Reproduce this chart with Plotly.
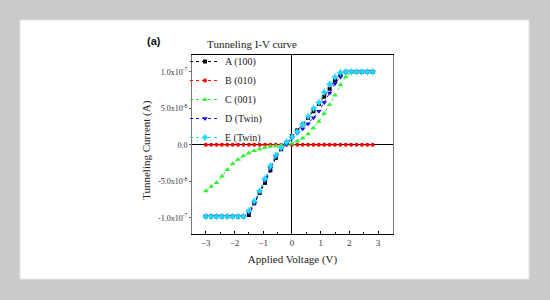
import plotly.graph_objects as go

# Bias voltage (V), common to every series
voltage = [-3.0, -2.8125, -2.625, -2.4375, -2.25, -2.0625, -1.875, -1.6875,
           -1.5, -1.3125, -1.125, -0.9375, -0.75, -0.5625, -0.375, -0.1875,
           0.0, 0.1875, 0.375, 0.5625, 0.75, 0.9375, 1.125, 1.3125,
           1.5, 1.6875, 1.875, 2.0625, 2.25, 2.4375, 2.625, 2.8125]

# Tunneling current, in units of 1e-8 A
cur_a_100 = [-9.8, -9.8, -9.8, -9.8, -9.8, -9.8, -9.8, -9.8,
             -9.6, -8.0, -6.6, -5.2, -3.5, -1.8, -0.6, 0.3,
             1.2, 2.0, 2.8, 3.7, 4.6, 5.6, 6.6, 7.7,
             8.8, 9.7, 10.0, 10.0, 10.0, 10.0, 10.0, 10.0]
cur_b_010 = [0.0, 0.0, 0.0, 0.0, 0.0, 0.0, 0.0, 0.0,
             0.0, 0.0, 0.0, 0.0, 0.0, 0.0, 0.0, 0.0,
             0.0, 0.0, 0.0, 0.0, 0.0, 0.0, 0.0, 0.0,
             0.0, 0.0, 0.0, 0.0, 0.0, 0.0, 0.0, 0.0]
cur_c_001 = [-6.3, -5.7, -5.2, -4.3, -3.4, -2.6, -2.0, -1.5,
             -1.1, -0.8, -0.55, -0.37, -0.23, -0.14, -0.06, 0.0,
             0.2, 0.5, 0.9, 1.5, 2.3, 3.2, 4.3, 5.5,
             6.8, 8.2, 9.3, 9.9, 10.0, 10.0, 10.0, 10.0]
cur_d_twin = [-9.8, -9.8, -9.8, -9.8, -9.8, -9.8, -9.8, -9.8,
              -9.3, -8.0, -6.4, -4.9, -3.2, -1.6, -0.5, 0.1,
              0.9, 1.6, 2.2, 2.9, 3.7, 4.6, 5.8, 7.1,
              8.4, 9.3, 9.9, 10.0, 10.0, 10.0, 10.0, 10.0]
cur_e_twin = [-9.8, -9.8, -9.8, -9.8, -9.8, -9.8, -9.8, -9.8,
              -9.0, -7.7, -6.3, -4.6, -2.9, -1.4, -0.4, 0.4,
              1.1, 1.8, 2.8, 3.9, 5.0, 5.8, 7.2, 8.3,
              9.3, 9.9, 10.0, 10.0, 10.0, 10.0, 10.0, 10.0]

series_names = ["A (100)", "B (010)", "C (001)", "D (Twin)", "E (Twin)"]

x_tickvals = [-3, -2, -1, 0, 1, 2, 3]
y_tickvals = [-1e-7, -5e-8, 0, 5e-8, 1e-7]
y_ticktext = ["-1.0x10<sup>-7</sup>", "-5.0x10<sup>-8</sup>", "0.0",
              "5.0x10<sup>-8</sup>", "1.0x10<sup>-7</sup>"]

SERIF = "Liberation Serif, Times New Roman, serif"

# estilos de cada serie
styles = [
    dict(color="#000000", symbol="square", size=4),
    dict(color="#ff0000", symbol="circle", size=4),
    dict(color="#33ee33", symbol="triangle-up", size=5),
    dict(color="#1010e0", symbol="triangle-down", size=5),
    dict(color="#22d8ff", symbol="star-diamond", size=6),
]

fig = go.Figure()

for name, cur, st in zip(series_names,
                         [cur_a_100, cur_b_010, cur_c_001, cur_d_twin, cur_e_twin],
                         styles):
    fig.add_trace(go.Scatter(
        x=voltage,
        y=[c * 1e-8 for c in cur],
        mode="lines+markers",
        name=name,
        line=dict(color=st["color"], width=1, dash="dot"),
        marker=dict(color=st["color"], symbol=st["symbol"], size=st["size"]),
    ))

# marco blanco sobre fondo gris
fig.add_shape(type="rect", xref="paper", yref="paper",
              x0=-0.8557, x1=1.6766, y0=-0.2514, y1=1.1955,
              fillcolor="white", line=dict(color="#e4e4e4", width=1),
              layer="below")

fig.update_layout(
    width=550, height=300,
    paper_bgcolor="#cacaca",
    plot_bgcolor="white",
    margin=dict(l=192, r=157, t=55, b=66, autoexpand=False),
    font=dict(family=SERIF, color="#222222", size=10),
    title=dict(text="Tunneling I-V curve", xref="paper", x=0.2985,
               xanchor="center", y=0.853, yanchor="middle",
               font=dict(family=SERIF, size=11, color="#222222")),
    legend=dict(xref="container", x=185 / 550, xanchor="left",
                yref="container", y=1 - 47 / 300, yanchor="top",
                bgcolor="rgba(255,255,255,0)", borderwidth=0,
                font=dict(family=SERIF, size=10, color="#222222"),
                tracegroupgap=0),
    showlegend=True,
)

fig.add_annotation(text="<b>(a)</b>", xref="paper", yref="paper",
                   x=-0.235, y=1.08, xanchor="left", yanchor="middle",
                   showarrow=False,
                   font=dict(family="Liberation Sans, Arial", size=11, color="#111111"))

# titulo del eje Y como anotacion (el titulo con standoff se descoloca)
fig.add_annotation(text="Tunneling Current (A)", xref="paper", yref="paper",
                   x=-0.224, y=0.47, textangle=-90,
                   xanchor="center", yanchor="middle", showarrow=False,
                   font=dict(family=SERIF, size=11, color="#222222"))

fig.update_xaxes(
    range=[-3.48, 3.52],
    tickvals=x_tickvals,
    ticks="inside", ticklen=3, tickcolor="black",
    minor=dict(dtick=0.5, ticks="inside", ticklen=2, tickcolor="black"),
    showgrid=False,
    zeroline=True, zerolinecolor="black", zerolinewidth=1,
    showline=True, linecolor="black", linewidth=1, mirror=True,
    tickfont=dict(family=SERIF, size=9, color="#333333"),
    title=dict(text="Applied Voltage (V)", standoff=8,
               font=dict(family=SERIF, size=11, color="#222222")),
)

fig.update_yaxes(
    range=[-1.22e-7, 1.23e-7],
    tickvals=y_tickvals, ticktext=y_ticktext,
    ticks="outside", ticklen=2, tickcolor="#666666",
    showgrid=False,
    zeroline=True, zerolinecolor="black", zerolinewidth=1,
    showline=True, linecolor="#777777", linewidth=1, mirror=True,
    tickfont=dict(family=SERIF, size=8, color="#334"),
)

# quitar el margen por defecto del body para que la figura empiece en (0,0)
fig.write_html("out.html",
               config={"displayModeBar": False},
               post_script="document.body.style.margin='0';"
                           "document.body.style.background='#cacaca';")
